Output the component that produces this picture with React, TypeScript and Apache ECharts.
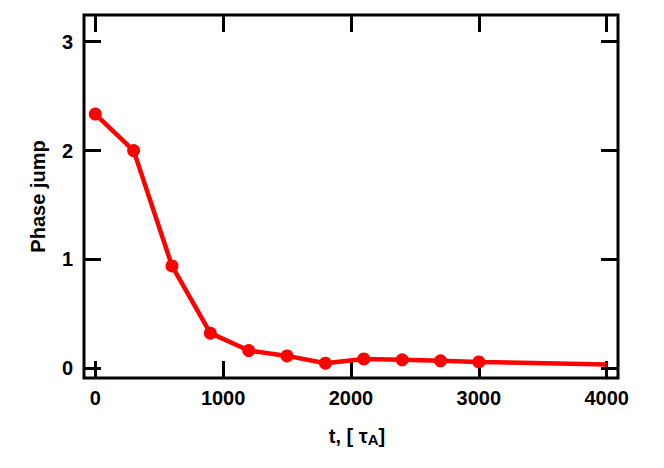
import React, { useEffect, useRef } from "react";
import * as echarts from "echarts";

const times = [0, 300, 600, 900, 1200, 1500, 1800, 2100, 2400, 2700, 3000, 4000];
const phaseJump = [2.335, 2.0, 0.94, 0.322, 0.162, 0.113, 0.046, 0.085, 0.077, 0.068, 0.058, 0.035];
const markerShown = [true, true, true, true, true, true, true, true, true, true, true, false];
const xTicks = [0, 1000, 2000, 3000, 4000];
const yTicks = [0, 1, 2, 3];

const FONT = "'Liberation Sans', Arial, Helvetica, sans-serif";

export default function App() {
  const ref = useRef<HTMLDivElement>(null);
  useEffect(() => {
    if (!ref.current) return;
    const chart = echarts.init(ref.current, null, { renderer: "svg" });
    const xMin = -88, xMax = 4088, yMin = -0.09, yMax = 3.245;
    const tickCommon = { show: true, inside: true, length: 17, lineStyle: { color: "#000", width: 3 } };
    const noLine = { show: false, onZero: false };
    const data = times.map((t, i) => ({
      value: [t, phaseJump[i]],
      symbol: markerShown[i] ? "circle" : "none",
    }));
    chart.setOption({
      animation: false,
      backgroundColor: "#fff",
      grid: {
        left: 84, top: 15, width: 534, height: 363,
        show: true, borderColor: "#000", borderWidth: 3, backgroundColor: "transparent",
      },
      xAxis: [
        {
          type: "value", min: xMin, max: xMax, position: "bottom",
          axisLine: noLine, splitLine: { show: false },
          axisTick: { ...tickCommon, customValues: xTicks },
          axisLabel: {
            customValues: xTicks, color: "#000", fontSize: 20, fontWeight: "bold",
            fontFamily: FONT, margin: 10, formatter: (v: number) => String(v),
          },
          name: "t, [ τ{sub|A}]",
          nameLocation: "middle", nameGap: 46,
          nameTextStyle: {
            color: "#000", fontSize: 20, fontWeight: "bold", fontFamily: FONT,
            padding: [0, 0, 0, 12],
            rich: { sub: { fontSize: 15, fontWeight: "bold", fontFamily: FONT, color: "#000", padding: [8, 0, 0, 0] } },
          },
        },
        {
          type: "value", min: xMin, max: xMax, position: "top",
          axisLine: noLine, splitLine: { show: false },
          axisTick: { ...tickCommon, customValues: xTicks },
          axisLabel: { show: false },
        },
      ],
      yAxis: [
        {
          type: "value", min: yMin, max: yMax, position: "left",
          axisLine: noLine, splitLine: { show: false },
          axisTick: { ...tickCommon, customValues: yTicks },
          axisLabel: {
            customValues: yTicks, color: "#000", fontSize: 20, fontWeight: "bold",
            fontFamily: FONT, margin: 11, formatter: (v: number) => String(v),
          },
          name: "Phase jump",
          nameLocation: "middle", nameGap: 36,
          nameTextStyle: { color: "#000", fontSize: 20, fontWeight: "bold", fontFamily: FONT },
        },
        {
          type: "value", min: yMin, max: yMax, position: "right",
          axisLine: noLine, splitLine: { show: false },
          axisTick: { ...tickCommon, customValues: yTicks },
          axisLabel: { show: false },
        },
      ],
      series: [
        {
          type: "line",
          data,
          xAxisIndex: 0, yAxisIndex: 0,
          symbolSize: 13,
          lineStyle: { color: "#ff0000", width: 4.5 },
          itemStyle: { color: "#ff0000" },
        },
      ],
    });
    return () => chart.dispose();
  }, []);
  return <div ref={ref} style={{ width: 664, height: 468, position: "absolute", left: 0, top: 0 }} />;
}
